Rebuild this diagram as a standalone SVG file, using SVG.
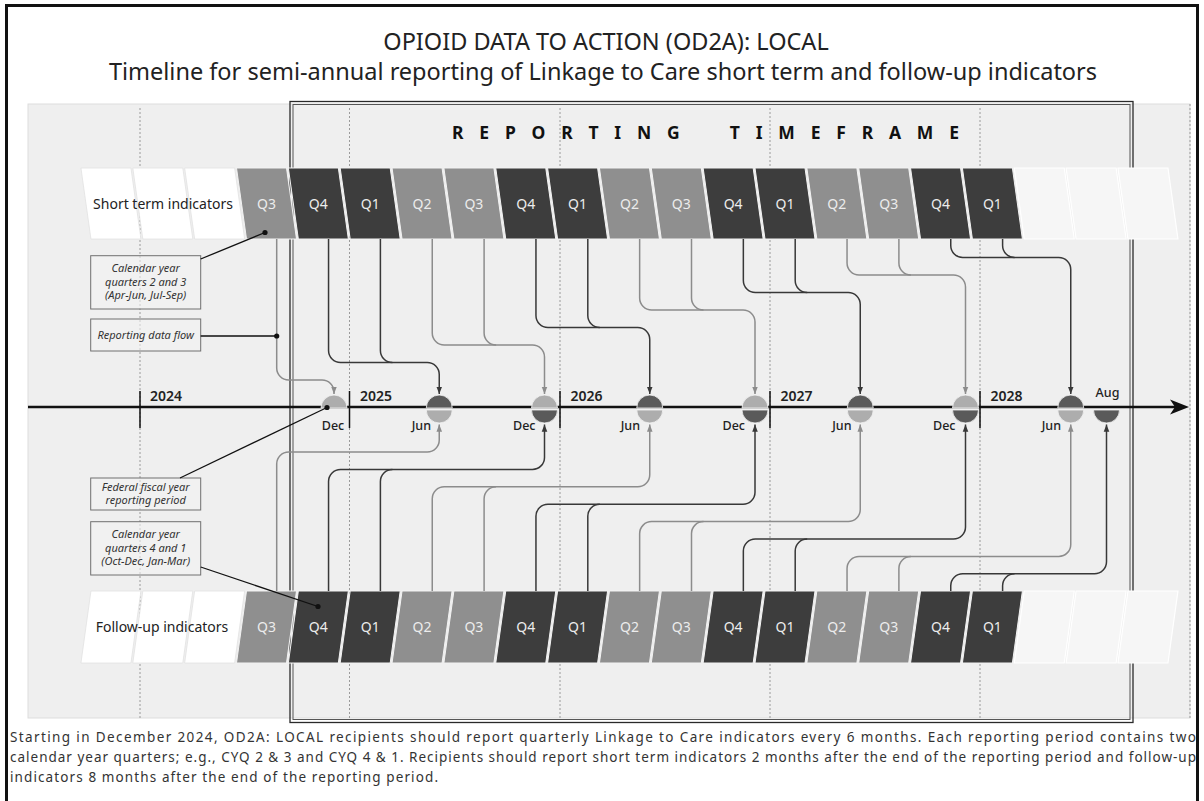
<svg xmlns="http://www.w3.org/2000/svg" width="1204" height="801" viewBox="0 0 1204 801">
<defs>
<style>
text{font-family:"Noto Sans","Liberation Sans",sans-serif}
.dk{fill:#3d3d3d;stroke:#f2f2f2;stroke-width:1}
.gy{fill:#8f8f8f;stroke:#f2f2f2;stroke-width:1}
.wh{fill:#ffffff;stroke:#e2e2e2;stroke-width:0.8}
.fw{fill:#f6f6f6;stroke:#ffffff;stroke-width:1.2}
.ql{font-size:14px;fill:#ececec;text-anchor:middle}
.cd{fill:none;stroke:#383838;stroke-width:1.5}
.cg{fill:none;stroke:#8c8c8c;stroke-width:1.5}
.ad{marker-end:url(#ad)}
.ag{marker-end:url(#ag)}
.yr{font-size:14px;font-weight:600;fill:#222}
.mo{font-size:12.5px;font-weight:500;fill:#222;text-anchor:end}
.lg{fill:#f1f1f1;fill-opacity:0.6;stroke:#707070;stroke-width:1}
.lt{font-size:11px;font-style:italic;fill:#333;text-anchor:middle}
.ld{stroke:#111;stroke-width:1.3;fill:none}
.dot{fill:#111}
.vd{stroke:#9a9a9a;stroke-width:1;stroke-dasharray:2 2}
.hd{fill:#5a5a5a;stroke:#f4f4f4;stroke-width:0.8}
.hl{fill:#adadad;stroke:#f4f4f4;stroke-width:0.8}
.rl{font-size:14px;fill:#222;text-anchor:middle}
</style>
<path id="qt" d="M0,0H50L60,71H10Z"/>
<path id="qb" d="M10,0H60L50,72H0Z"/>
<marker id="ad" viewBox="0 0 10 10" refX="9" refY="5" markerWidth="8" markerHeight="8" markerUnits="userSpaceOnUse" orient="auto"><path d="M0,1.5L9,5L0,8.5Z" fill="#383838"/></marker>
<marker id="ag" viewBox="0 0 10 10" refX="9" refY="5" markerWidth="8" markerHeight="8" markerUnits="userSpaceOnUse" orient="auto"><path d="M0,1.5L9,5L0,8.5Z" fill="#8c8c8c"/></marker>
</defs>

<rect x="0" y="0" width="1204" height="801" fill="#ffffff"/>
<rect x="6.5" y="5.5" width="1191" height="810" fill="none" stroke="#111" stroke-width="3"/>

<g id="title">
<text x="606" y="50" font-size="23.5" text-anchor="middle" fill="#222">OPIOID DATA TO ACTION (OD2A): LOCAL</text>
<text x="603" y="80" font-size="23.5" text-anchor="middle" fill="#222">Timeline for semi-annual reporting of Linkage to Care short term and follow-up indicators</text>
</g>

<g id="panel">
<rect x="28" y="104" width="1162" height="614" fill="#efefef" stroke="#dddddd" stroke-width="1"/>
<line class="vd" x1="1190" y1="104" x2="1190" y2="718"/>
</g>

<g id="reporting-timeframe">
<rect x="290" y="101.5" width="843" height="621" fill="none" stroke="#2a2a2a" stroke-width="1.3"/>
<rect x="293" y="104.5" width="837" height="615" fill="none" stroke="#555" stroke-width="1"/>
<text x="452" y="139" font-size="17.5" font-weight="700" fill="#111" letter-spacing="15.8">REPORTING<tspan dx="14"> </tspan>TIMEFRAME</text>
</g>

<g id="year-gridlines">
<line class="vd" x1="140" y1="108" x2="140" y2="718"/>
<line class="vd" x1="349.5" y1="108" x2="349.5" y2="718"/>
<line class="vd" x1="560" y1="108" x2="560" y2="718"/>
<line class="vd" x1="770" y1="108" x2="770" y2="718"/>
<line class="vd" x1="980" y1="108" x2="980" y2="718"/>
</g>

<g id="legend-boxes">
<g id="legend-cy23">
<rect class="lg" x="90.7" y="255.7" width="110" height="53.3"/>
<text class="lt" x="145.7" y="272">Calendar year</text>
<text class="lt" x="145.7" y="285.5">quarters 2 and 3</text>
<text class="lt" x="145.7" y="299">(Apr-Jun, Jul-Sep)</text>
</g>
<g id="legend-flow">
<rect class="lg" x="90.7" y="319" width="110" height="32"/>
<text class="lt" x="145.7" y="339">Reporting data flow</text>
</g>
<g id="legend-ffy">
<rect class="lg" x="90.7" y="478" width="110" height="32"/>
<text class="lt" x="145.7" y="490.5">Federal fiscal year</text>
<text class="lt" x="145.7" y="503.5">reporting period</text>
</g>
<g id="legend-cy41">
<rect class="lg" x="90.7" y="521.7" width="110" height="53.3"/>
<text class="lt" x="145.7" y="538">Calendar year</text>
<text class="lt" x="145.7" y="551.5">quarters 4 and 1</text>
<text class="lt" x="145.7" y="565">(Oct-Dec, Jan-Mar)</text>
</g>
</g>

<g id="short-term-row">
<g id="st-label"><use href="#qt" x="80.95" y="168" class="wh"/><use href="#qt" x="132.8" y="168" class="wh"/><use href="#qt" x="184.65" y="168" class="wh"/><text class="rl" x="163" y="209">Short term indicators</text></g>
<g id="st-q3-2024"><use href="#qt" x="236.5" y="168" class="gy"/><text class="ql" x="266.5" y="209">Q3</text></g>
<g id="st-q4-2024"><use href="#qt" x="288.35" y="168" class="dk"/><text class="ql" x="318.35" y="209">Q4</text></g>
<g id="st-q1-2025"><use href="#qt" x="340.2" y="168" class="dk"/><text class="ql" x="370.2" y="209">Q1</text></g>
<g id="st-q2-2025"><use href="#qt" x="392.05" y="168" class="gy"/><text class="ql" x="422.05" y="209">Q2</text></g>
<g id="st-q3-2025"><use href="#qt" x="443.9" y="168" class="gy"/><text class="ql" x="473.9" y="209">Q3</text></g>
<g id="st-q4-2025"><use href="#qt" x="495.75" y="168" class="dk"/><text class="ql" x="525.75" y="209">Q4</text></g>
<g id="st-q1-2026"><use href="#qt" x="547.6" y="168" class="dk"/><text class="ql" x="577.6" y="209">Q1</text></g>
<g id="st-q2-2026"><use href="#qt" x="599.45" y="168" class="gy"/><text class="ql" x="629.45" y="209">Q2</text></g>
<g id="st-q3-2026"><use href="#qt" x="651.3" y="168" class="gy"/><text class="ql" x="681.3" y="209">Q3</text></g>
<g id="st-q4-2026"><use href="#qt" x="703.15" y="168" class="dk"/><text class="ql" x="733.15" y="209">Q4</text></g>
<g id="st-q1-2027"><use href="#qt" x="755" y="168" class="dk"/><text class="ql" x="785" y="209">Q1</text></g>
<g id="st-q2-2027"><use href="#qt" x="806.85" y="168" class="gy"/><text class="ql" x="836.85" y="209">Q2</text></g>
<g id="st-q3-2027"><use href="#qt" x="858.7" y="168" class="gy"/><text class="ql" x="888.7" y="209">Q3</text></g>
<g id="st-q4-2027"><use href="#qt" x="910.55" y="168" class="dk"/><text class="ql" x="940.55" y="209">Q4</text></g>
<g id="st-q1-2028"><use href="#qt" x="962.4" y="168" class="dk"/><text class="ql" x="992.4" y="209">Q1</text></g>
<g id="st-future"><use href="#qt" x="1014.25" y="168" class="fw"/><use href="#qt" x="1066.1" y="168" class="fw"/><use href="#qt" x="1117.95" y="168" class="fw"/></g>
</g>

<g id="follow-up-row">
<g id="fu-label"><use href="#qb" x="80.95" y="591" class="wh"/><use href="#qb" x="132.8" y="591" class="wh"/><use href="#qb" x="184.65" y="591" class="wh"/><text class="rl" x="162" y="632">Follow-up indicators</text></g>
<g id="fu-q3-2024"><use href="#qb" x="236.5" y="591" class="gy"/><text class="ql" x="266.5" y="632">Q3</text></g>
<g id="fu-q4-2024"><use href="#qb" x="288.35" y="591" class="dk"/><text class="ql" x="318.35" y="632">Q4</text></g>
<g id="fu-q1-2025"><use href="#qb" x="340.2" y="591" class="dk"/><text class="ql" x="370.2" y="632">Q1</text></g>
<g id="fu-q2-2025"><use href="#qb" x="392.05" y="591" class="gy"/><text class="ql" x="422.05" y="632">Q2</text></g>
<g id="fu-q3-2025"><use href="#qb" x="443.9" y="591" class="gy"/><text class="ql" x="473.9" y="632">Q3</text></g>
<g id="fu-q4-2025"><use href="#qb" x="495.75" y="591" class="dk"/><text class="ql" x="525.75" y="632">Q4</text></g>
<g id="fu-q1-2026"><use href="#qb" x="547.6" y="591" class="dk"/><text class="ql" x="577.6" y="632">Q1</text></g>
<g id="fu-q2-2026"><use href="#qb" x="599.45" y="591" class="gy"/><text class="ql" x="629.45" y="632">Q2</text></g>
<g id="fu-q3-2026"><use href="#qb" x="651.3" y="591" class="gy"/><text class="ql" x="681.3" y="632">Q3</text></g>
<g id="fu-q4-2026"><use href="#qb" x="703.15" y="591" class="dk"/><text class="ql" x="733.15" y="632">Q4</text></g>
<g id="fu-q1-2027"><use href="#qb" x="755" y="591" class="dk"/><text class="ql" x="785" y="632">Q1</text></g>
<g id="fu-q2-2027"><use href="#qb" x="806.85" y="591" class="gy"/><text class="ql" x="836.85" y="632">Q2</text></g>
<g id="fu-q3-2027"><use href="#qb" x="858.7" y="591" class="gy"/><text class="ql" x="888.7" y="632">Q3</text></g>
<g id="fu-q4-2027"><use href="#qb" x="910.55" y="591" class="dk"/><text class="ql" x="940.55" y="632">Q4</text></g>
<g id="fu-q1-2028"><use href="#qb" x="962.4" y="591" class="dk"/><text class="ql" x="992.4" y="632">Q1</text></g>
<g id="fu-future"><use href="#qb" x="1014.25" y="591" class="fw"/><use href="#qb" x="1066.1" y="591" class="fw"/><use href="#qb" x="1117.95" y="591" class="fw"/></g>
</g>

<g id="connectors">
<path class="cg ag" d="M276.7,239V368A12,12 0 0 0 288.7,380H322A12,12 0 0 1 334,392V394"/>
<path class="cd ad" d="M328.55,239V350.5A12,12 0 0 0 340.55,362.5H427.25A12,12 0 0 1 439.25,374.5V394"/>
<path class="cd" d="M380.4,239V350.5A12,12 0 0 0 392.4,362.5"/>
<path class="cg ag" d="M432.25,239V333A12,12 0 0 0 444.25,345H532.5A12,12 0 0 1 544.5,357V394"/>
<path class="cg" d="M484.1,239V333A12,12 0 0 0 496.1,345"/>
<path class="cd ad" d="M535.95,239V315.5A12,12 0 0 0 547.95,327.5H637.75A12,12 0 0 1 649.75,339.5V394"/>
<path class="cd" d="M587.8,239V315.5A12,12 0 0 0 599.8,327.5"/>
<path class="cg ag" d="M639.65,239V298A12,12 0 0 0 651.65,310H743A12,12 0 0 1 755,322V394"/>
<path class="cg" d="M691.5,239V298A12,12 0 0 0 703.5,310"/>
<path class="cd ad" d="M743.35,239V280.5A12,12 0 0 0 755.35,292.5H848.25A12,12 0 0 1 860.25,304.5V394"/>
<path class="cd" d="M795.2,239V280.5A12,12 0 0 0 807.2,292.5"/>
<path class="cg ag" d="M847.05,239V263A12,12 0 0 0 859.05,275H953.5A12,12 0 0 1 965.5,287V394"/>
<path class="cg" d="M898.9,239V263A12,12 0 0 0 910.9,275"/>
<path class="cd ad" d="M950.75,239V245.5A12,12 0 0 0 962.75,257.5H1058.75A12,12 0 0 1 1070.75,269.5V394"/>
<path class="cd" d="M1002.6,239V245.5A12,12 0 0 0 1014.6,257.5"/>

<path class="cg ag" d="M276.7,591V464A12,12 0 0 1 288.7,452H427.25A12,12 0 0 0 439.25,440V424.5"/>
<path class="cd ad" d="M328.55,591V481.4A12,12 0 0 1 340.55,469.4H532.5A12,12 0 0 0 544.5,457.4V424.5"/>
<path class="cd" d="M380.4,591V481.4A12,12 0 0 1 392.4,469.4"/>
<path class="cg ag" d="M432.25,591V498.8A12,12 0 0 1 444.25,486.8H637.75A12,12 0 0 0 649.75,474.8V424.5"/>
<path class="cg" d="M484.1,591V498.8A12,12 0 0 1 496.1,486.8"/>
<path class="cd ad" d="M535.95,591V516.2A12,12 0 0 1 547.95,504.2H743A12,12 0 0 0 755,492.2V424.5"/>
<path class="cd" d="M587.8,591V516.2A12,12 0 0 1 599.8,504.2"/>
<path class="cg ag" d="M639.65,591V533.6A12,12 0 0 1 651.65,521.6H848.25A12,12 0 0 0 860.25,509.6V424.5"/>
<path class="cg" d="M691.5,591V533.6A12,12 0 0 1 703.5,521.6"/>
<path class="cd ad" d="M743.35,591V551A12,12 0 0 1 755.35,539H953.5A12,12 0 0 0 965.5,527V424.5"/>
<path class="cd" d="M795.2,591V551A12,12 0 0 1 807.2,539"/>
<path class="cg ag" d="M847.05,591V568.4A12,12 0 0 1 859.05,556.4H1058.75A12,12 0 0 0 1070.75,544.4V424.5"/>
<path class="cg" d="M898.9,591V568.4A12,12 0 0 1 910.9,556.4"/>
<path class="cd ad" d="M950.75,591V585.8A12,12 0 0 1 962.75,573.8H1094.5A12,12 0 0 0 1106.5,561.8V424.5"/>
<path class="cd" d="M1002.6,591V585.8A12,12 0 0 1 1014.6,573.8"/>
</g>

<g id="timeline">
<line x1="28" y1="407" x2="1180" y2="407" stroke="#111" stroke-width="2.5"/>
<path d="M1189,407L1170,399.5L1175,407L1170,414.5Z" fill="#111"/>
<line x1="140" y1="391" x2="140" y2="428" stroke="#111" stroke-width="1.5"/>
<line x1="349.5" y1="391" x2="349.5" y2="428" stroke="#111" stroke-width="1.5"/>
<line x1="560" y1="391" x2="560" y2="428" stroke="#111" stroke-width="1.5"/>
<line x1="770" y1="391" x2="770" y2="428" stroke="#111" stroke-width="1.5"/>
<line x1="980" y1="391" x2="980" y2="428" stroke="#111" stroke-width="1.5"/>
<text class="yr" x="150" y="401">2024</text>
<text class="yr" x="360" y="401">2025</text>
<text class="yr" x="570.5" y="401">2026</text>
<text class="yr" x="780.5" y="401">2027</text>
<text class="yr" x="990.5" y="401">2028</text>
</g>

<g id="dec-2024"><path class="hl" d="M321,408A13,13 0 0 1 347,408Z"/><text class="mo" x="333" y="429.5" style="text-anchor:middle">Dec</text></g>
<g id="jun-2025"><path class="hd" d="M426.25,408A13,13 0 0 1 452.25,408Z"/><path class="hl" d="M426.25,410A13,13 0 0 0 452.25,410Z"/><text class="mo" x="431" y="429.5">Jun</text></g>
<g id="dec-2025"><path class="hl" d="M531.5,408A13,13 0 0 1 557.5,408Z"/><path class="hd" d="M531.5,410A13,13 0 0 0 557.5,410Z"/><text class="mo" x="535.5" y="429.5">Dec</text></g>
<g id="jun-2026"><path class="hd" d="M636.75,408A13,13 0 0 1 662.75,408Z"/><path class="hl" d="M636.75,410A13,13 0 0 0 662.75,410Z"/><text class="mo" x="640" y="429.5">Jun</text></g>
<g id="dec-2026"><path class="hl" d="M742,408A13,13 0 0 1 768,408Z"/><path class="hd" d="M742,410A13,13 0 0 0 768,410Z"/><text class="mo" x="745" y="429.5">Dec</text></g>
<g id="jun-2027"><path class="hd" d="M847.25,408A13,13 0 0 1 873.25,408Z"/><path class="hl" d="M847.25,410A13,13 0 0 0 873.25,410Z"/><text class="mo" x="851.5" y="429.5">Jun</text></g>
<g id="dec-2027"><path class="hl" d="M952.5,408A13,13 0 0 1 978.5,408Z"/><path class="hd" d="M952.5,410A13,13 0 0 0 978.5,410Z"/><text class="mo" x="955.5" y="429.5">Dec</text></g>
<g id="jun-2028"><path class="hd" d="M1057.75,408A13,13 0 0 1 1083.75,408Z"/><path class="hl" d="M1057.75,410A13,13 0 0 0 1083.75,410Z"/><text class="mo" x="1061" y="429.5">Jun</text></g>
<g id="aug-2028"><path class="hd" d="M1093.5,410A13,13 0 0 0 1119.5,410Z"/><text class="mo" x="1107.5" y="397" style="text-anchor:middle">Aug</text></g>

<g id="legend-leaders">
<line class="ld" x1="200.7" y1="259" x2="265" y2="232.5"/><circle class="dot" cx="265" cy="232.5" r="2.6"/>
<line class="ld" x1="200.7" y1="336" x2="276.7" y2="336"/><circle class="dot" cx="276.7" cy="336" r="2.6"/>
<line class="ld" x1="180" y1="478" x2="327" y2="407.5"/><circle class="dot" cx="327" cy="407.5" r="2.6"/>
<line class="ld" x1="200.7" y1="567" x2="318" y2="606.5"/><circle class="dot" cx="318" cy="606.5" r="2.6"/>
</g>

<g id="footer" font-size="13.5" fill="#333">
<text x="10" y="742" textLength="1186" lengthAdjust="spacing">Starting in December 2024, OD2A: LOCAL recipients should report quarterly Linkage to Care indicators every 6 months. Each reporting period contains two</text>
<text x="10" y="762" textLength="1186" lengthAdjust="spacing">calendar year quarters; e.g., CYQ 2 &amp; 3 and CYQ 4 &amp; 1. Recipients should report short term indicators 2 months after the end of the reporting period and follow-up</text>
<text x="10" y="782" textLength="428" lengthAdjust="spacing">indicators 8 months after the end of the reporting period.</text>
</g>
</svg>
